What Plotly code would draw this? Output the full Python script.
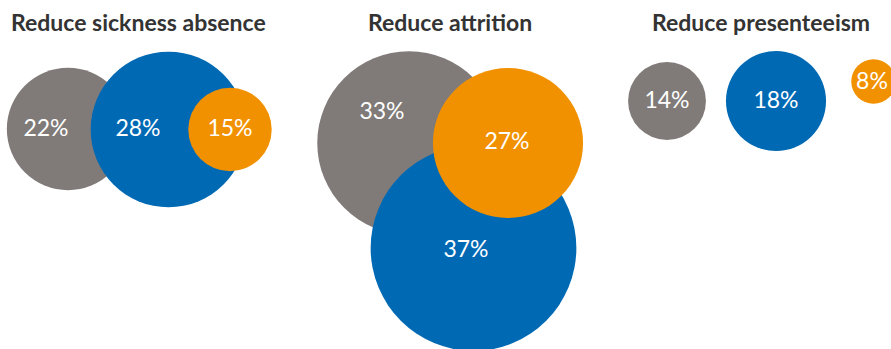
import plotly.graph_objects as go

# Data
groups = ["Reduce sickness absence", "Reduce attrition", "Reduce presenteeism"]
series = ["gray", "blue", "orange"]
values = {
    "Reduce sickness absence": [22, 28, 15],
    "Reduce attrition": [33, 37, 27],
    "Reduce presenteeism": [14, 18, 8],
}

# Layout (pixel positions)
colors = {"gray": "#807b78", "blue": "#0069b4", "orange": "#f29100"}
centers = {
    "Reduce sickness absence": [(68, 129), (168.5, 129.5), (230, 129.5)],
    "Reduce attrition": [(409, 143), (473.5, 248), (508, 143)],
    "Reduce presenteeism": [(667, 101), (776, 101), (873.5, 81.5)],
}
label_pos = {
    "Reduce sickness absence": [(46, 130), (138, 130), (230, 130)],
    "Reduce attrition": [(382, 113), (466, 251), (507, 143)],
    "Reduce presenteeism": [(667, 102), (776, 102), (872, 83)],
}
title_pos = {"Reduce sickness absence": 138.5, "Reduce attrition": 450, "Reduce presenteeism": 761}
px_per_pct = 5.56  # diameter in px per percentage point

fig = go.Figure()
for g in groups:
    for i, s in enumerate(series):
        v = values[g][i]
        cx, cy = centers[g][i]
        fig.add_trace(go.Scatter(
            x=[cx], y=[cy], mode="markers",
            marker=dict(size=v * px_per_pct, color=colors[s], line=dict(width=0), opacity=1),
            hoverinfo="skip", showlegend=False, cliponaxis=False,
        ))
    lx = [p[0] for p in label_pos[g]]
    ly = [p[1] for p in label_pos[g]]
    fig.add_trace(go.Scatter(
        x=lx, y=ly, mode="text", text=[f"{v}%" for v in values[g]],
        textfont=dict(family="Lato", size=23, color="white"),
        hoverinfo="skip", showlegend=False, cliponaxis=False,
    ))
    fig.add_annotation(x=title_pos[g], y=22, xref="x", yref="y", text=f"<b>{g}</b>",
                       showarrow=False, font=dict(family="Lato", size=23, color="#333333"))

fig.update_layout(
    width=891, height=349, margin=dict(l=0, r=0, t=0, b=0),
    paper_bgcolor="white", plot_bgcolor="white",
    xaxis=dict(range=[0, 891], visible=False, fixedrange=True),
    yaxis=dict(range=[349, 0], visible=False, fixedrange=True),
)
fig.write_html("out.html")
